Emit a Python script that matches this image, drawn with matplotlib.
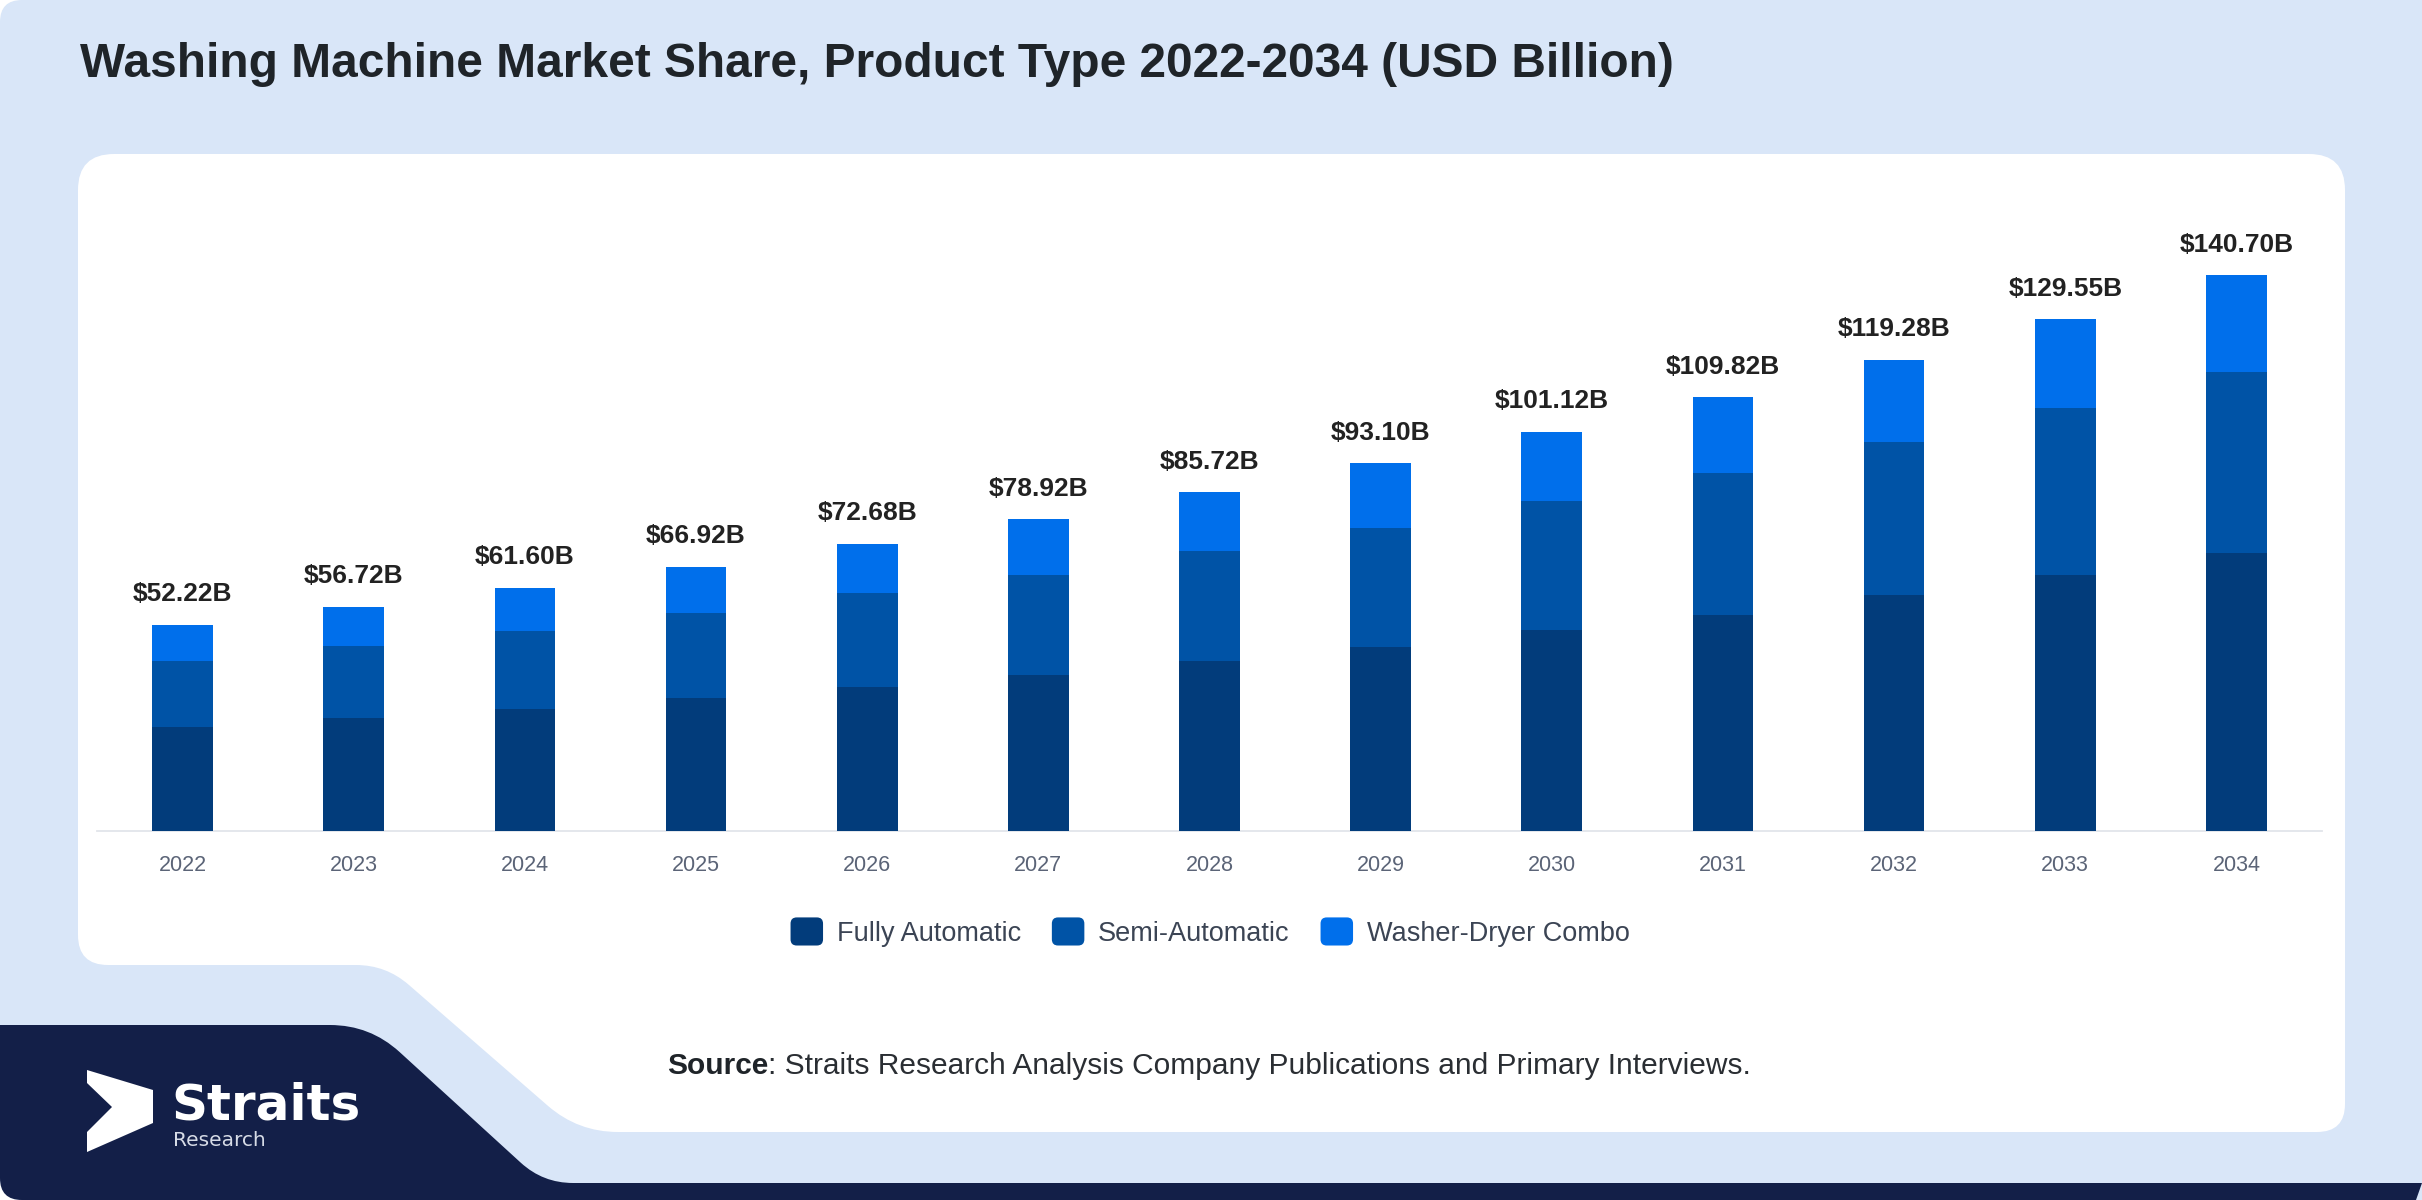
import matplotlib
matplotlib.use("Agg")
import matplotlib.pyplot as plt
from matplotlib.path import Path
from matplotlib.patches import PathPatch, FancyBboxPatch, Rectangle, Polygon
from matplotlib.legend_handler import HandlerPatch
import numpy as np

# ---------------- data ----------------
years = ["2022", "2023", "2024", "2025", "2026", "2027", "2028",
         "2029", "2030", "2031", "2032", "2033", "2034"]
fully_automatic = [26.4, 28.6, 30.8, 33.6, 36.4, 39.5, 43.0, 46.5, 50.8, 54.7, 59.8, 64.9, 70.3]
semi_automatic = [16.7, 18.2, 19.9, 21.5, 23.9, 25.4, 27.8, 30.1, 32.8, 36.0, 38.7, 42.2, 45.8]
washer_dryer = [9.12, 9.92, 10.9, 11.82, 12.38, 14.02, 14.92, 16.5, 17.52, 19.12, 20.78, 22.45, 24.6]
totals = [52.22, 56.72, 61.60, 66.92, 72.68, 78.92, 85.72, 93.10, 101.12, 109.82, 119.28, 129.55, 140.70]
series_names = ["Fully Automatic", "Semi-Automatic", "Washer-Dryer Combo"]
series_colors = ["#023c7b", "#0053a6", "#006feb"]

title = "Washing Machine Market Share, Product Type 2022-2034 (USD Billion)"

W, H = 2422, 1200
plt.rcParams['font.family'] = ['Liberation Sans', 'DejaVu Sans']
fig = plt.figure(figsize=(W / 100, H / 100), dpi=100, facecolor="white")

# ---------------- background ----------------
bg = fig.add_axes([0, 0, 1, 1], zorder=-10)
bg.set_xlim(0, W)
bg.set_ylim(H, 0)
bg.axis("off")


def rounded_poly(pts, radii):
    n = len(pts)
    verts, codes = [], []
    for i in range(n):
        p = np.array(pts[i], float)
        pp = np.array(pts[i - 1], float)
        pn = np.array(pts[(i + 1) % n], float)
        r = radii[i]
        d1 = pp - p
        d2 = pn - p
        l1 = np.hypot(*d1)
        l2 = np.hypot(*d2)
        r1 = min(r, l1 / 2)
        r2 = min(r, l2 / 2)
        a = p + d1 / l1 * r1
        b = p + d2 / l2 * r2
        if i == 0:
            verts.append(a); codes.append(Path.MOVETO)
        else:
            verts.append(a); codes.append(Path.LINETO)
        verts.append(p); codes.append(Path.CURVE3)
        verts.append(b); codes.append(Path.CURVE3)
    verts.append(verts[0]); codes.append(Path.CLOSEPOLY)
    return Path(verts, codes)


light = "#d9e6f8"
navy = "#131f48"
bg.add_patch(PathPatch(rounded_poly([(0, 0), (W, 0), (W, H), (0, H)], [22, 0, 0, 22]),
                       facecolor=light, edgecolor="none"))
bg.add_patch(PathPatch(rounded_poly([(78, 154), (2345, 154), (2345, 1132), (578, 1132),
                                     (386, 965), (78, 965)], [36, 36, 28, 40, 30, 30]),
                       facecolor="white", edgecolor="none"))
bg.add_patch(PathPatch(rounded_poly([(0, 1025), (370, 1025), (543, 1183), (W, 1183),
                                     (W - 6, H), (0, H)], [0, 40, 30, 0, 0, 22]),
                       facecolor=navy, edgecolor="none"))

# logo
arrow = [(87, 1070), (153, 1090), (153, 1123), (87, 1152), (87, 1132), (112, 1107), (87, 1083)]
bg.add_patch(Polygon(arrow, closed=True, facecolor="white", edgecolor="none"))
bg.text(171, 1120, "Straits", fontsize=36, fontweight="bold", color="white",
        family="DejaVu Sans", va="baseline", ha="left")
bg.text(173, 1146, "Research", fontsize=14.5, color="#d6dbe6",
        family="DejaVu Sans", va="baseline", ha="left")

# title
fig.text(80 / W, 1 - 77 / H, title, fontsize=34.5, fontweight="bold",
         color="#1f2429", va="baseline", ha="left")

# source
s1 = fig.text(667 / W, 1 - 1074 / H, "Source", fontsize=21.5, fontweight="bold",
              color="#1f2429", va="baseline", ha="left")
fig.canvas.draw()
bb = s1.get_window_extent()
fig.text(bb.x1 / W, 1 - 1074 / H, ": Straits Research Analysis Company Publications and Primary Interviews.",
         fontsize=21.5, color="#2a2e33", va="baseline", ha="left")

# ---------------- chart ----------------
left, right = 97 / W, 2322 / W
bottom, top = 1 - 831 / H, 1 - 199 / H
ax = fig.add_axes([left, bottom, right - left, top - bottom])
ax.set_facecolor("none")
x = np.arange(len(years))
bw = 0.355
b1 = ax.bar(x, fully_automatic, bw, color=series_colors[0], label=series_names[0], zorder=3)
b2 = ax.bar(x, semi_automatic, bw, bottom=fully_automatic, color=series_colors[1],
            label=series_names[1], zorder=3)
base3 = [f + s for f, s in zip(fully_automatic, semi_automatic)]
b3 = ax.bar(x, washer_dryer, bw, bottom=base3, color=series_colors[2],
            label=series_names[2], zorder=3)

for xi, t in zip(x, totals):
    ax.annotate(f"${t:.2f}B", xy=(xi, t), xytext=(0, 17), textcoords="offset points",
                ha="center", va="baseline", fontsize=19, fontweight="bold", color="#222222")

ax.set_xlim(-0.5, len(years) - 0.5)
ax.set_ylim(0, 160)
ax.set_xticks(x)
ax.set_xticklabels(years)
ax.tick_params(axis="x", length=0, pad=17, labelsize=15.5, labelcolor="#5b6477")
ax.set_yticks([])
for sp in ["left", "right", "top"]:
    ax.spines[sp].set_visible(False)
ax.spines["bottom"].set_color("#e2e5ea")
ax.spines["bottom"].set_linewidth(1.3)


class RoundHandler(HandlerPatch):
    def create_artists(self, legend, orig_handle, xdescent, ydescent, width, height, fontsize, trans):
        p = FancyBboxPatch((-xdescent, -ydescent), width, height,
                           boxstyle="round,pad=0,rounding_size=%f" % (min(width, height) * 0.22),
                           facecolor=orig_handle.get_facecolor(), edgecolor="none", transform=trans)
        return [p]


handles = [b1.patches[0], b2.patches[0], b3.patches[0]]
leg = fig.legend(handles, series_names, loc="center", bbox_to_anchor=(1210 / W, 1 - 932 / H),
                 ncol=3, frameon=False, fontsize=19.5, handlelength=1.2, handleheight=1.22,
                 handletextpad=0.5, columnspacing=1.15, labelcolor="#3b4454",
                 handler_map={Rectangle: RoundHandler()})

fig.savefig("out.png", dpi=100, facecolor="white")
